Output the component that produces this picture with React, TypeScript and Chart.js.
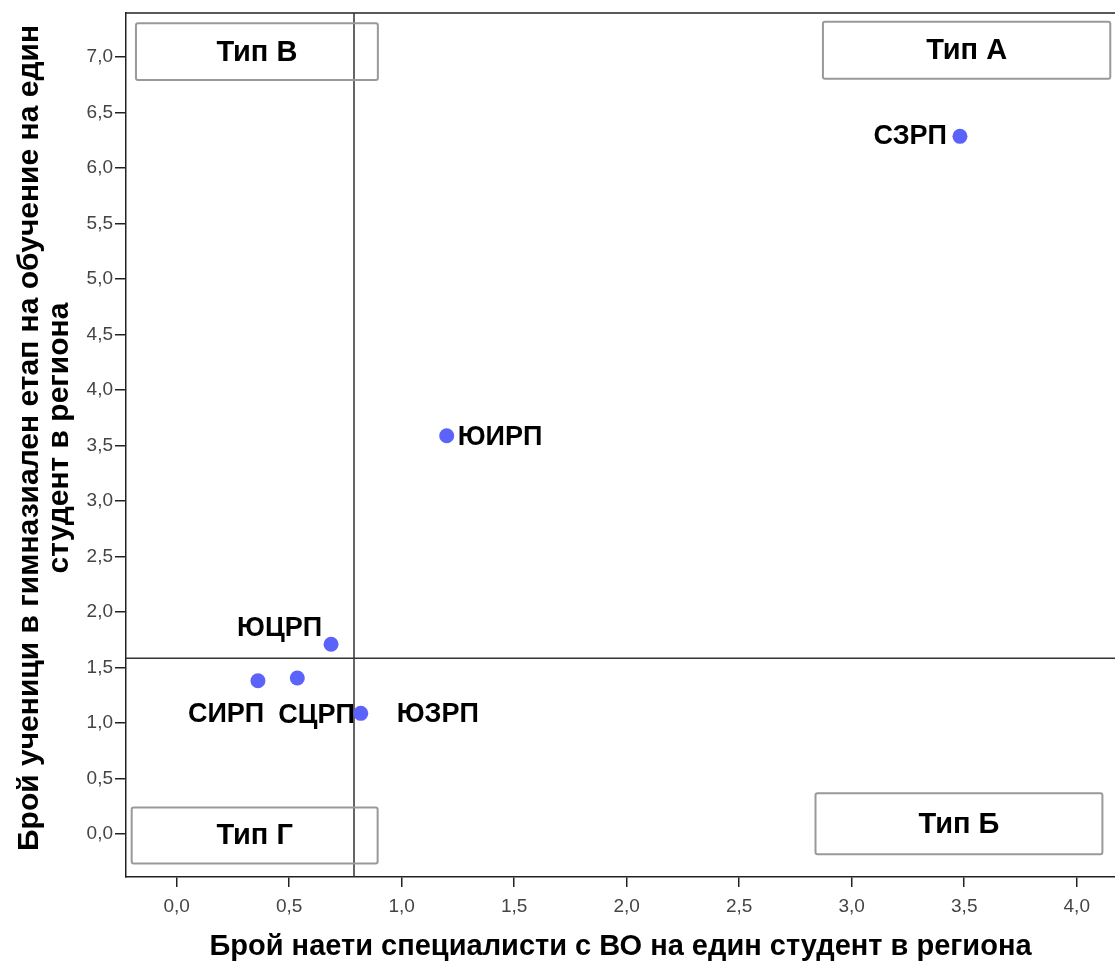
import React, { useEffect, useRef } from "react";
import { Chart, registerables } from "chart.js";

Chart.register(...registerables);

// ---- data ----
const regions = ["СЗРП", "ЮИРП", "ЮЦРП", "СИРП", "СЦРП", "ЮЗРП"];
const specialistsPerStudent = [3.481, 1.2, 0.686, 0.361, 0.536, 0.818];
const pupilsPerStudent = [6.285, 3.588, 1.709, 1.381, 1.405, 1.087];

const refX = 0.788; // vertical reference line
const refY = 1.583; // horizontal reference line

const typeNames = ["Тип В", "Тип А", "Тип Г", "Тип Б"];
const typeBoxX0 = [-0.181, 2.872, -0.2, 2.839];
const typeBoxX1 = [0.894, 4.149, 0.893, 4.114];
const typeBoxY0 = [7.304, 7.318, 0.24, 0.367];
const typeBoxY1 = [6.793, 6.804, -0.265, -0.182];

const xTitle = "Брой наети специалисти с ВО на един студент в региона";
const yTitle = ["Брой ученици в гимназиален етап на обучение на един", "студент в региона"];

// ---- label styling (pixel offsets from point) ----
const labelAlign: CanvasTextAlign[] = ["right", "left", "right", "left", "left", "left"];
const labelDx = [-13, 11, -9, -70, -19, 36];
const labelDy = [0, 2, -16, 34, 37, 1];

const FONT = '"Liberation Sans", Arial, sans-serif';

const overlayPlugin = {
  id: "overlay",
  beforeDatasetsDraw(chart: any) {
    const { ctx, chartArea, scales } = chart;
    const x = scales.x;
    const y = scales.y;
    ctx.save();
    // top border
    ctx.strokeStyle = "#222";
    ctx.lineWidth = 1.5;
    ctx.beginPath();
    ctx.moveTo(chartArea.left, chartArea.top);
    ctx.lineTo(chartArea.right, chartArea.top);
    ctx.stroke();
    // reference lines
    ctx.strokeStyle = "#333";
    ctx.lineWidth = 1.5;
    const px = x.getPixelForValue(refX);
    const py = y.getPixelForValue(refY);
    ctx.beginPath();
    ctx.moveTo(px, chartArea.top);
    ctx.lineTo(px, chartArea.bottom);
    ctx.moveTo(chartArea.left, py);
    ctx.lineTo(chartArea.right, py);
    ctx.stroke();
    // type boxes
    typeNames.forEach((name, i) => {
      const x0 = x.getPixelForValue(typeBoxX0[i]);
      const x1 = x.getPixelForValue(typeBoxX1[i]);
      const y0 = y.getPixelForValue(typeBoxY0[i]);
      const y1 = y.getPixelForValue(typeBoxY1[i]);
      ctx.strokeStyle = "#999";
      ctx.lineWidth = 2;
      ctx.beginPath();
      if (ctx.roundRect) ctx.roundRect(x0, y0, x1 - x0, y1 - y0, 2);
      else ctx.rect(x0, y0, x1 - x0, y1 - y0);
      ctx.stroke();
      ctx.fillStyle = "#000";
      ctx.font = `bold 29px ${FONT}`;
      ctx.textAlign = "center";
      ctx.textBaseline = "middle";
      ctx.fillText(name, (x0 + x1) / 2, (y0 + y1) / 2 + 1);
    });
    ctx.restore();
  },
  afterDatasetsDraw(chart: any) {
    const { ctx, scales } = chart;
    ctx.save();
    ctx.fillStyle = "#000";
    ctx.font = `bold 27px ${FONT}`;
    ctx.textBaseline = "middle";
    regions.forEach((r, i) => {
      const px = scales.x.getPixelForValue(specialistsPerStudent[i]);
      const py = scales.y.getPixelForValue(pupilsPerStudent[i]);
      ctx.textAlign = labelAlign[i];
      ctx.fillText(r, px + labelDx[i], py + labelDy[i]);
    });
    ctx.restore();
  },
  afterDraw(chart: any) {
    // y-axis title (two lines, rotated)
    const { ctx, chartArea } = chart;
    ctx.save();
    ctx.fillStyle = "#000";
    ctx.font = `bold 30px ${FONT}`;
    ctx.textAlign = "center";
    ctx.textBaseline = "middle";
    const cy = (chartArea.top + chartArea.bottom) / 2 - 7;
    yTitle.forEach((line, i) => {
      ctx.save();
      ctx.translate(30 + i * 30, cy);
      ctx.rotate(-Math.PI / 2);
      ctx.fillText(line, 0, 0);
      ctx.restore();
    });
    ctx.restore();
  },
};

const fmt = (v: number) => v.toFixed(1).replace(".", ",");

export default function App() {
  const ref = useRef<HTMLCanvasElement | null>(null);
  useEffect(() => {
    if (!ref.current) return;
    const chart = new Chart(ref.current, {
      type: "scatter",
      data: {
        datasets: [
          {
            label: "Региони",
            data: regions.map((_, i) => ({ x: specialistsPerStudent[i], y: pupilsPerStudent[i] })),
            backgroundColor: "#5c63fa",
            borderColor: "#5c63fa",
            pointRadius: 7.5,
            pointHoverRadius: 7.5,
            borderWidth: 0,
          },
        ],
      },
      options: {
        animation: false,
        responsive: false,
        events: [],
        layout: { autoPadding: false, padding: { top: 13, left: 0, right: 0, bottom: 0 } },
        plugins: { legend: { display: false }, tooltip: { enabled: false } },
        scales: {
          x: {
            type: "linear",
            min: -0.2253,
            max: 4.17,
            afterFit: (s: any) => {
              s.height = 88;
              s.paddingLeft = 0;
              s.paddingRight = 0;
            },
            border: { display: true, color: "#222", width: 1.5 },
            grid: { drawOnChartArea: false, drawTicks: true, tickLength: 10, color: "#222", lineWidth: 1.5 },
            ticks: {
              stepSize: 0.5,
              includeBounds: false,
              padding: 8,
              color: "#444",
              font: { family: FONT, size: 19 },
              callback: (v: any) => fmt(Number(v)),
              maxRotation: 0,
            },
            title: {
              display: true,
              text: xTitle,
              color: "#000",
              font: { family: FONT, size: 29, weight: "bold", lineHeight: "30px" },
              padding: { top: 0, bottom: 3 },
            },
          },
          y: {
            type: "linear",
            min: -0.387,
            max: 7.396,
            afterFit: (s: any) => {
              s.width = 126;
              s.paddingTop = 0;
              s.paddingBottom = 0;
            },
            border: { display: true, color: "#222", width: 1.5 },
            grid: { drawOnChartArea: false, drawTicks: true, tickLength: 11, color: "#222", lineWidth: 1.5 },
            ticks: {
              stepSize: 0.5,
              includeBounds: false,
              padding: 2,
              color: "#444",
              font: { family: FONT, size: 19 },
              callback: (v: any) => fmt(Number(v)),
            },
            title: { display: false },
          },
        },
      },
      plugins: [overlayPlugin],
    });
    return () => chart.destroy();
  }, []);
  return (
    <canvas
      ref={ref}
      width={1115}
      height={965}
      style={{ position: "absolute", left: 0, top: 0, width: 1115, height: 965 }}
    />
  );
}
